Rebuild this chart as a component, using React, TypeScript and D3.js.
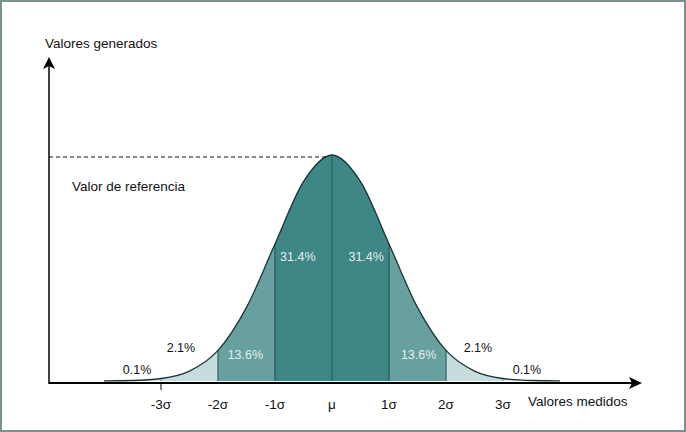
import React, { useEffect, useRef } from 'react';
import * as d3 from 'd3';

// curve heights, every half sigma
const curveX = [-4, -3.5, -3, -2.5, -2, -1.5, -1, -0.5, 0, 0.5, 1, 1.5, 2, 2.5, 3, 3.5, 4];
const curveY = [0.0002, 0.0009, 0.0044, 0.0175, 0.054, 0.13, 0.242, 0.352, 0.399, 0.352, 0.242, 0.13, 0.054, 0.0175, 0.0044, 0.0009, 0.0002];

// bands between sigma marks
const bandFrom = [-4, -3, -2, -1, 0, 1, 2, 3];
const bandTo = [-3, -2, -1, 0, 1, 2, 3, 4];
const bandLevel = [3, 2, 1, 0, 0, 1, 2, 3];

const bandLabels = ['0.1%', '2.1%', '13.6%', '31.4%', '31.4%', '13.6%', '2.1%', '0.1%'];
const labelX = [-3.42, -2.65, -1.52, -0.6, 0.6, 1.52, 2.56, 3.42];
const labelY = [0.019, 0.057, 0.044, 0.217, 0.217, 0.044, 0.057, 0.019];

const tickValues = [-3, -2, -1, 0, 1, 2, 3];
const tickLabels = ['-3σ', '-2σ', '-1σ', 'μ', '1σ', '2σ', '3σ'];

const W = 686;
const H = 432;

export default function App() {
  const ref = useRef<SVGSVGElement>(null);

  useEffect(() => {
    if (!ref.current) return;
    const svg = d3.select(ref.current);
    svg.selectAll('*').remove();

    const font = "'Liberation Sans', Arial, sans-serif";
    const fills = ['#3f8686', '#68a0a0', '#c7dddd', '#e4eded'];
    const labelFill = ['#e2eeee', '#e2eeee', '#111', '#111'];

    const x = d3.scaleLinear().domain([-1, 1]).range([275, 389]);
    const y = d3.scaleLinear().domain([0, 0.399]).range([381, 155]);
    const axisY = 383;
    const axisX = 49;

    // frame
    svg.append('rect')
      .attr('x', 1).attr('y', 1)
      .attr('width', W - 2).attr('height', H - 2)
      .attr('fill', '#fff')
      .attr('stroke', '#7d9090')
      .attr('stroke-width', 2);

    const pts: [number, number][] = curveX.map((d, i) => [d, curveY[i]]);

    const area = d3.area<[number, number]>()
      .x(d => x(d[0]))
      .y0(y(0))
      .y1(d => y(d[1]))
      .curve(d3.curveMonotoneX);

    const line = d3.line<[number, number]>()
      .x(d => x(d[0]))
      .y(d => y(d[1]))
      .curve(d3.curveMonotoneX);

    const defs = svg.append('defs');
    bandFrom.forEach((b, i) => {
      defs.append('clipPath').attr('id', `band${i}`)
        .append('rect')
        .attr('x', x(b)).attr('y', 0)
        .attr('width', x(bandTo[i]) - x(b))
        .attr('height', H);
      svg.append('path')
        .attr('d', area(pts))
        .attr('fill', fills[bandLevel[i]])
        .attr('clip-path', `url(#band${i})`);
    });

    // band dividers
    const curveNode = svg.append('path')
      .attr('d', line(pts))
      .attr('fill', 'none')
      .attr('stroke', 'none');
    const pathEl = curveNode.node() as SVGPathElement;
    const curveAt = (px: number) => {
      // find y on the drawn curve for a given pixel x
      let lo = 0, hi = pathEl.getTotalLength();
      for (let k = 0; k < 40; k++) {
        const mid = (lo + hi) / 2;
        if (pathEl.getPointAtLength(mid).x < px) lo = mid; else hi = mid;
      }
      return pathEl.getPointAtLength(lo).y;
    };
    tickValues.forEach(t => {
      svg.append('line')
        .attr('x1', x(t)).attr('x2', x(t))
        .attr('y1', y(0)).attr('y2', curveAt(x(t)))
        .attr('stroke', t === 0 || Math.abs(t) === 1 ? '#2a6466' : Math.abs(t) === 2 ? '#3f7576' : '#8fa8a8')
        .attr('stroke-width', 1.5);
    });

    svg.append('path')
      .attr('d', line(pts))
      .attr('fill', 'none')
      .attr('stroke', '#1c3434')
      .attr('stroke-width', 1.3);

    // reference line
    svg.append('line')
      .attr('x1', axisX).attr('x2', x(0) - 4)
      .attr('y1', y(0.399) + 2).attr('y2', y(0.399) + 2)
      .attr('stroke', '#111')
      .attr('stroke-dasharray', '4,3');

    svg.append('text')
      .attr('x', 72).attr('y', 191)
      .attr('font-family', font).attr('font-size', 13.5).attr('fill', '#111')
      .text('Valor de referencia');

    // axes
    svg.append('line')
      .attr('x1', axisX).attr('x2', axisX)
      .attr('y1', axisY + 1).attr('y2', 66)
      .attr('stroke', '#000').attr('stroke-width', 1.5);
    svg.append('path')
      .attr('d', `M${axisX},57 L${axisX - 6},69 L${axisX},66 L${axisX + 6},69 Z`)
      .attr('fill', '#000');

    svg.append('line')
      .attr('x1', axisX).attr('x2', 632)
      .attr('y1', axisY).attr('y2', axisY)
      .attr('stroke', '#000').attr('stroke-width', 2);
    svg.append('path')
      .attr('d', `M642,${axisY} L629,${axisY - 6} L632,${axisY} L629,${axisY + 6} Z`)
      .attr('fill', '#000');

    svg.append('line')
      .attr('x1', x(-3)).attr('x2', x(-3))
      .attr('y1', axisY).attr('y2', axisY + 7)
      .attr('stroke', '#000');

    tickValues.forEach((t, i) => {
      svg.append('text')
        .attr('x', x(t)).attr('y', 409)
        .attr('text-anchor', 'middle')
        .attr('font-family', font).attr('font-size', 13.5).attr('fill', '#111')
        .text(tickLabels[i]);
    });

    svg.append('text')
      .attr('x', 528).attr('y', 406)
      .attr('font-family', font).attr('font-size', 13.5).attr('fill', '#111')
      .text('Valores medidos');

    svg.append('text')
      .attr('x', 45).attr('y', 48)
      .attr('font-family', font).attr('font-size', 13.5).attr('fill', '#111')
      .text('Valores generados');

    // band labels
    bandLabels.forEach((l, i) => {
      svg.append('text')
        .attr('x', x(labelX[i])).attr('y', y(labelY[i]))
        .attr('text-anchor', 'middle')
        .attr('dominant-baseline', 'middle')
        .attr('font-family', font).attr('font-size', 12.5)
        .attr('fill', labelFill[bandLevel[i]])
        .text(l);
    });
  }, []);

  return (
    <svg ref={ref} width={W} height={H}
      style={{ position: 'absolute', left: 0, top: 0, display: 'block' }} />
  );
}
